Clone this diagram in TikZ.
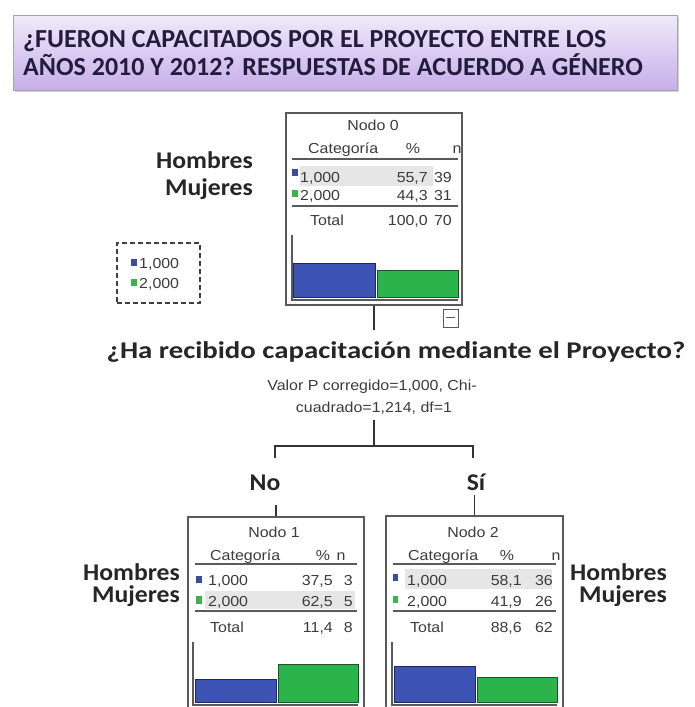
\documentclass[tikz,border=0pt]{standalone}
\usepackage{fontspec}
\setmainfont{Carlito}
\newfontfamily\tbl[FakeStretch=1.1]{Liberation Sans}
\newfontfamily\bst[FakeStretch=1.07]{Carlito}
\newfontfamily\qst[FakeStretch=1.2]{Carlito}
\usetikzlibrary{shadows}
\definecolor{barblue}{RGB}{62,84,180}
\definecolor{barbluedk}{RGB}{30,40,95}
\definecolor{bargreen}{RGB}{44,180,76}
\definecolor{bargreendk}{RGB}{25,85,40}
\definecolor{sqblue}{RGB}{58,78,160}
\definecolor{sqgreen}{RGB}{60,180,75}
\definecolor{tgray}{RGB}{60,60,60}
\definecolor{lgray}{RGB}{90,90,90}
\definecolor{hl}{RGB}{230,230,230}
\definecolor{titletext}{RGB}{35,28,60}
\definecolor{titletop}{RGB}{240,234,250}
\definecolor{titlebot}{RGB}{198,174,234}
\tikzset{
  tt/.style={font=\tbl\fontsize{14.5}{16}\selectfont, text=tgray, inner sep=0pt},
  vt/.style={font=\tbl\fontsize{14.5}{22}\selectfont, text=tgray, inner sep=0pt, align=center},
  bt/.style={font=\bst\bfseries\fontsize{24}{27}\selectfont, text=black!85, inner sep=0pt},
  qt/.style={font=\qst\bfseries\fontsize{24}{27}\selectfont, text=black!85, inner sep=0pt},
  tit/.style={font=\bfseries\fontsize{26}{28}\selectfont, text=titletext, inner sep=0pt},
  tblbox/.style={draw=lgray, line width=1.3pt, inner sep=0pt},
  rule/.style={draw=lgray, line width=1.2pt},
  conn/.style={draw=black!80, line width=1.3pt},
  bbar/.style={fill=barblue, draw=barbluedk, line width=0.8pt},
  gbar/.style={fill=bargreen, draw=bargreendk, line width=0.8pt},
}
\begin{document}
\begin{tikzpicture}[x=1pt,y=-1pt]
\useasboundingbox (0,0) rectangle (694,707);
\fill[white] (0,0) rectangle (694,707);
% title
\node[draw=black!35, line width=0.6pt, top color=titletop, bottom color=titlebot,
  drop shadow={shadow xshift=2pt, shadow yshift=-2pt, opacity=0.35},
  minimum width=664pt, minimum height=75pt, inner sep=0pt] (title) at (345,52.5) {};
\node[tit, anchor=base west] (t1) at (23,47) {¿FUERON CAPACITADOS POR EL PROYECTO ENTRE LOS};
\node[tit, anchor=base west] (t2) at (23,75) {AÑOS 2010 Y 2012? RESPUESTAS DE ACUERDO A GÉNERO};

% ---------- Node 0
\node[tblbox, minimum width=176pt, minimum height=192pt] (n0) at (374,209) {};
\node[tt, anchor=base] (n0t) at (373,130) {Nodo 0};
\node[tt, anchor=base west] (n0c) at (308,153) {Categoría};
\node[tt, anchor=base] (n0p) at (413,153) {\%};
\node[tt, anchor=base] (n0n) at (457,153) {n};
\draw[rule] (292,159) -- (458,159);
\fill[hl] (300,166) rectangle (433,186);
\fill[sqblue] (292,169) rectangle (298,176);
\node[tt, anchor=base west] (n0a1) at (300,182) {1,000};
\node[tt, anchor=base east] (n0a2) at (428,182) {55,7};
\node[tt, anchor=base east] (n0a3) at (452,182) {39};
\fill[sqgreen] (292,190) rectangle (298,197);
\node[tt, anchor=base west] (n0b1) at (300,200) {2,000};
\node[tt, anchor=base east] (n0b2) at (428,200) {44,3};
\node[tt, anchor=base east] (n0b3) at (452,200) {31};
\draw[rule] (292,206) -- (458,206);
\node[tt, anchor=base west] (n0d1) at (310,225) {Total};
\node[tt, anchor=base east] (n0d2) at (428,225) {100,0};
\node[tt, anchor=base east] (n0d3) at (452,225) {70};
\draw[rule] (292,235) -- (292,300) -- (458,300);
\draw[bbar] (293,263) rectangle (375,297);
\draw[gbar] (377,270) rectangle (458,297);
\node[draw=lgray, line width=1pt, minimum width=15pt, minimum height=18pt, inner sep=0pt] (minus) at (450.5,318) {};
\draw[lgray, line width=1pt] (446,317) -- (455,317);

\node[bt, anchor=base east] (h0) at (253,168) {Hombres};
\node[bt, anchor=base east] (m0) at (253,195) {Mujeres};

% legend
\node[draw=black!75, dashed, dash pattern=on 5pt off 3pt, line width=1.2pt, minimum width=83pt, minimum height=60pt] (leg) at (158.5,273) {};
\fill[sqblue] (131,259) rectangle (137,266);
\node[tt, anchor=base west] (l1) at (139,268) {1,000};
\fill[sqgreen] (131,279) rectangle (137,286);
\node[tt, anchor=base west] (l2) at (139,288) {2,000};

% question & split
\coordinate (c0) at (374,330);
\draw[conn] (n0.south) -- (c0);
\node[qt, anchor=base] (q) at (396,358) {¿Ha recibido capacitación mediante el Proyecto?};
\node[vt, anchor=base] (pv1) at (372,390) {Valor P corregido=1,000, Chi-};
\node[vt, anchor=base] (pv2) at (374,412) {cuadrado=1,214, df=1};
\coordinate (ptop) at (374,420);
\coordinate (split) at (374,446);
\coordinate (ltick) at (275,458);
\coordinate (rtick) at (473,458);
\draw[conn] (ptop) -- (split);
\draw[conn] (ltick) |- (split) -| (rtick);
\node[bt, anchor=base] (no) at (265,490) {No};
\node[bt, anchor=base] (si) at (476,490) {Sí};
\coordinate (nob) at (276,505);
\coordinate (sib) at (474.5,495);

% ---------- Node 1
\node[tblbox, minimum width=176pt, minimum height=203pt] (n1) at (276,618.5) {};
\draw[conn] (nob) -- (n1.north);
\node[tt, anchor=base] (n1t) at (274,537) {Nodo 1};
\node[tt, anchor=base west] (n1c) at (210,560) {Categoría};
\node[tt, anchor=base] (n1p) at (323,560) {\%};
\node[tt, anchor=base] (n1n) at (341,560) {n};
\draw[rule] (195,564) -- (357,564);
\fill[hl] (205,591) rectangle (355,609);
\fill[sqblue] (196,576) rectangle (202,583);
\node[tt, anchor=base west] (n1a1) at (208,585) {1,000};
\node[tt, anchor=base east] (n1a2) at (333,585) {37,5};
\node[tt, anchor=base east] (n1a3) at (353,585) {3};
\fill[sqgreen] (196,596) rectangle (202,604);
\node[tt, anchor=base west] (n1b1) at (208,606) {2,000};
\node[tt, anchor=base east] (n1b2) at (333,606) {62,5};
\node[tt, anchor=base east] (n1b3) at (353,606) {5};
\draw[rule] (195,611) -- (357,611);
\node[tt, anchor=base west] (n1d1) at (210,632) {Total};
\node[tt, anchor=base east] (n1d2) at (333,632) {11,4};
\node[tt, anchor=base east] (n1d3) at (353,632) {8};
\draw[rule] (193,642) -- (193,705) -- (358,705);
\draw[bbar] (195,679) rectangle (276,702);
\draw[gbar] (278,664) rectangle (358,702);
\node[bt, anchor=base east] (h1) at (180,580) {Hombres};
\node[bt, anchor=base east] (m1) at (180,602) {Mujeres};

% ---------- Node 2
\node[tblbox, minimum width=177pt, minimum height=204pt] (n2) at (474.5,618) {};
\draw[conn] (sib) -- (n2.north);
\node[tt, anchor=base] (n2t) at (473,537) {Nodo 2};
\node[tt, anchor=base west] (n2c) at (408,560) {Categoría};
\node[tt, anchor=base] (n2p) at (507,560) {\%};
\node[tt, anchor=base] (n2n) at (556,560) {n};
\draw[rule] (393,564) -- (556,564);
\fill[hl] (405,569) rectangle (552,589);
\fill[sqblue] (393,574) rectangle (398,581);
\node[tt, anchor=base west] (n2a1) at (407,585) {1,000};
\node[tt, anchor=base east] (n2a2) at (522,585) {58,1};
\node[tt, anchor=base east] (n2a3) at (553,585) {36};
\fill[sqgreen] (393,596) rectangle (398,603);
\node[tt, anchor=base west] (n2b1) at (407,606) {2,000};
\node[tt, anchor=base east] (n2b2) at (522,606) {41,9};
\node[tt, anchor=base east] (n2b3) at (553,606) {26};
\draw[rule] (393,611) -- (556,611);
\node[tt, anchor=base west] (n2d1) at (410,632) {Total};
\node[tt, anchor=base east] (n2d2) at (522,632) {88,6};
\node[tt, anchor=base east] (n2d3) at (553,632) {62};
\draw[rule] (392,642) -- (392,705) -- (557,705);
\draw[bbar] (394,666) rectangle (475,702);
\draw[gbar] (477,677) rectangle (557,702);
\node[bt, anchor=base east] (h2) at (667,580) {Hombres};
\node[bt, anchor=base east] (m2) at (667,602) {Mujeres};
\end{tikzpicture}
\end{document}
